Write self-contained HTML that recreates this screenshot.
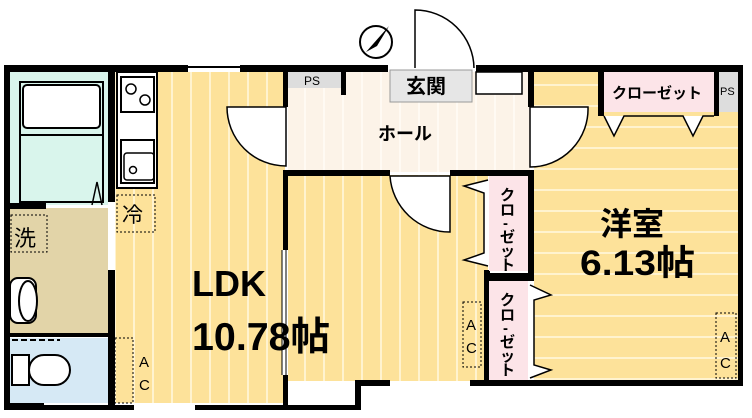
<!DOCTYPE html>
<html><head><meta charset="utf-8"><style>
html,body{margin:0;padding:0;background:#fff;width:752px;height:418px;overflow:hidden}
svg{display:block}
text{font-family:"Liberation Sans","Noto Sans CJK JP",sans-serif}
</style></head><body>
<svg width="752" height="418" viewBox="0 0 752 418" xmlns="http://www.w3.org/2000/svg">
<defs>
<pattern id="vs" width="19" height="10" patternUnits="userSpaceOnUse"><rect width="19" height="10" fill="#fde29a"/><rect x="0" width="2" height="10" fill="#fff3cf"/></pattern>
<pattern id="hs" width="10" height="21" patternUnits="userSpaceOnUse"><rect width="10" height="21" fill="#fde29a"/><rect y="0" width="10" height="2" fill="#fff3cf"/></pattern>
<pattern id="hl" width="19" height="10" patternUnits="userSpaceOnUse"><rect width="19" height="10" fill="#fcf3e8"/><rect width="2" height="10" fill="#fffaf3"/></pattern>
</defs>
<rect x="10" y="72" width="98" height="133" fill="#d9f5ec"/>
<rect x="10" y="208" width="98" height="125" fill="#e2d4a8"/>
<rect x="10" y="338" width="98" height="65" fill="#d6e9f5"/>
<rect x="115" y="72" width="170" height="331" fill="url(#vs)"/>
<rect x="288" y="72" width="242" height="100" fill="url(#hl)"/>
<rect x="288" y="175" width="200" height="206" fill="url(#vs)"/>
<rect x="534" y="72" width="204" height="308" fill="url(#hs)"/>
<g fill="#000">
<rect x="4" y="65" width="184" height="7"/><rect x="188" y="66" width="52" height="2"/><rect x="240" y="65" width="50" height="7"/>
<rect x="288" y="65" width="100" height="7"/><rect x="476" y="65" width="267" height="7"/>
<rect x="4" y="65" width="6" height="345"/>
<rect x="4" y="403" width="40" height="7"/><rect x="44" y="405" width="90" height="5"/><rect x="195" y="405" width="165" height="5"/>
<rect x="355" y="380" width="6" height="30"/><rect x="355" y="380" width="35" height="6"/>
<rect x="470" y="380" width="273" height="6"/>
<rect x="738" y="65" width="5" height="321"/>
<rect x="108" y="72" width="7" height="130"/><rect x="108" y="270" width="7" height="140"/>
<rect x="10" y="203" width="36" height="6"/><rect x="10" y="333" width="98" height="4"/>
<rect x="283" y="72" width="5" height="35"/><rect x="283" y="170" width="5" height="80"/><rect x="283" y="375" width="5" height="30"/>
<rect x="288" y="170" width="102" height="6"/><rect x="450" y="170" width="84" height="6"/>
<rect x="528" y="65" width="6" height="42"/><rect x="528" y="170" width="6" height="105"/>
<rect x="484" y="270" width="6" height="110"/>
<rect x="341" y="72" width="5" height="23"/>
<rect x="598" y="72" width="6" height="44"/><rect x="714" y="72" width="5" height="44"/>
</g>
<rect x="20" y="82" width="83" height="120" fill="#d9f5ec" stroke="#000" stroke-width="2"/>
<rect x="23" y="85" width="77" height="43" rx="4" fill="#fff" stroke="#000" stroke-width="2"/>
<line x1="20" y1="135" x2="103" y2="135" stroke="#000" stroke-width="2"/>
<polyline points="92,205 97,182 102,205" fill="none" stroke="#000" stroke-width="1.5"/>
<rect x="11" y="215" width="36" height="37" fill="none" stroke="#000" stroke-dasharray="2,2"/>
<text x="14" y="246" font-size="22">洗</text>
<rect x="10" y="278" width="26" height="45" rx="8" fill="#fff" stroke="#000" stroke-width="2"/>
<ellipse cx="28" cy="301" rx="9" ry="20" fill="#fff" stroke="#000" stroke-width="2"/>
<rect x="12" y="355" width="17" height="30" fill="#fff" stroke="#000" stroke-width="2"/>
<rect x="29" y="355" width="41" height="30" rx="15" fill="#fff" stroke="#000" stroke-width="2"/>
<line x1="12" y1="340" x2="60" y2="340" stroke="#000" stroke-width="2" stroke-dasharray="6,3"/>
<rect x="117" y="72" width="40" height="116" fill="#fff" stroke="#000" stroke-width="2"/>
<rect x="121" y="77" width="33" height="35" fill="#fff" stroke="#000" stroke-width="2"/>
<circle cx="131" cy="89" r="5" fill="none" stroke="#000" stroke-width="1.5"/><circle cx="145" cy="100" r="5" fill="none" stroke="#000" stroke-width="1.5"/>
<rect x="121" y="140" width="33" height="43" fill="#fff" stroke="#000" stroke-width="2"/>
<rect x="124" y="153" width="30" height="27" rx="3" fill="none" stroke="#000" stroke-width="1.5"/>
<circle cx="133" cy="170" r="3.5" fill="none" stroke="#000" stroke-width="1.5"/>
<rect x="117" y="195" width="38" height="37" fill="none" stroke="#000" stroke-dasharray="2,2"/>
<text x="122" y="222" font-size="21">冷</text>
<rect x="115" y="338" width="18" height="65" fill="none" stroke="#000" stroke-dasharray="2,2"/>
<text x="139" y="367" font-size="15">A</text><text x="139" y="390" font-size="15">C</text>
<path d="M286,107 L227,107 A59,59 0 0 0 286,166 Z" fill="#fff" stroke="#000" stroke-width="1.5"/>
<line x1="284" y1="250" x2="284" y2="375" stroke="#fff" stroke-width="4"/>
<line x1="282" y1="250" x2="282" y2="375" stroke="#000" stroke-width="1"/>
<line x1="286" y1="250" x2="286" y2="375" stroke="#000" stroke-width="1"/>
<rect x="288" y="72" width="53" height="16" fill="#ddd"/>
<text x="304" y="85" font-size="12">PS</text>
<rect x="390" y="70" width="82" height="32" fill="#e6e6e6" stroke="#999"/>
<text x="406" y="93" font-size="20" font-weight="bold">玄関</text>
<rect x="476" y="72" width="46" height="22" fill="#fff" stroke="#000" stroke-width="1.5"/>
<path d="M415,68 L415,10 A59,59 0 0 1 474,68" fill="#fff" stroke="#000" stroke-width="1.5"/>
<circle cx="376" cy="42" r="16" fill="#fff" stroke="#000" stroke-width="2"/>
<polygon points="366,52 389,26 377,46" fill="#000"/>
<text x="378" y="140" font-size="18" font-weight="bold">ホール</text>
<path d="M450,176 L390,176 A60,60 0 0 0 450,232 Z" fill="#fff" stroke="#000" stroke-width="1.5"/>
<path d="M530,107 L588,107 A58,58 0 0 1 530,167 Z" fill="#fff" stroke="#000" stroke-width="1.5"/>
<rect x="604" y="72" width="110" height="40" fill="#fce4e8"/>
<text x="612" y="98" font-size="15" font-weight="bold">クローゼット</text>
<rect x="719" y="72" width="19" height="40" fill="#ddd"/><text x="720" y="95" font-size="11">PS</text>
<polyline points="604,116 614,136 624,116 683,116 693,136 703,116 714,116" fill="#fff" stroke="#000" stroke-width="1.5"/>
<rect x="489" y="176" width="39" height="95" fill="#fce4e8"/>
<rect x="489" y="281" width="39" height="99" fill="#fce4e8"/>
<rect x="484" y="273" width="50" height="8" fill="#000"/>
<g font-size="15" font-weight="bold">
<text x="500" y="200">ク</text><text x="500" y="215">ロ</text><text x="503" y="228">-</text><text x="500" y="242">ゼ</text><text x="500" y="256">ッ</text><text x="500" y="270">ト</text>
<text x="500" y="305">ク</text><text x="500" y="320">ロ</text><text x="503" y="333">-</text><text x="500" y="347">ゼ</text><text x="500" y="361">ッ</text><text x="500" y="375">ト</text>
</g>
<polyline points="488,180 464,186 484,193 484,253 464,260 488,266" fill="#fff" stroke="#000" stroke-width="1.5"/>
<polyline points="530,285 551,295 534,300 534,365 551,370 530,378" fill="#fff" stroke="#000" stroke-width="1.5"/>
<rect x="463" y="302" width="18" height="65" fill="none" stroke="#000" stroke-dasharray="2,2"/>
<text x="466" y="330" font-size="15">A</text><text x="466" y="353" font-size="15">C</text>
<rect x="716" y="313" width="20" height="65" fill="none" stroke="#000" stroke-dasharray="2,2"/>
<text x="720" y="342" font-size="15">A</text><text x="720" y="368" font-size="15">C</text>
<text x="192" y="296" font-size="36" font-weight="bold">LDK</text>
<text x="192" y="350" font-size="39" font-weight="bold" textLength="138" lengthAdjust="spacingAndGlyphs">10.78帖</text>
<text x="600" y="235" font-size="32" font-weight="bold">洋室</text>
<text x="580" y="275" font-size="35" font-weight="bold" textLength="115" lengthAdjust="spacingAndGlyphs">6.13帖</text>
</svg>
</body></html>
